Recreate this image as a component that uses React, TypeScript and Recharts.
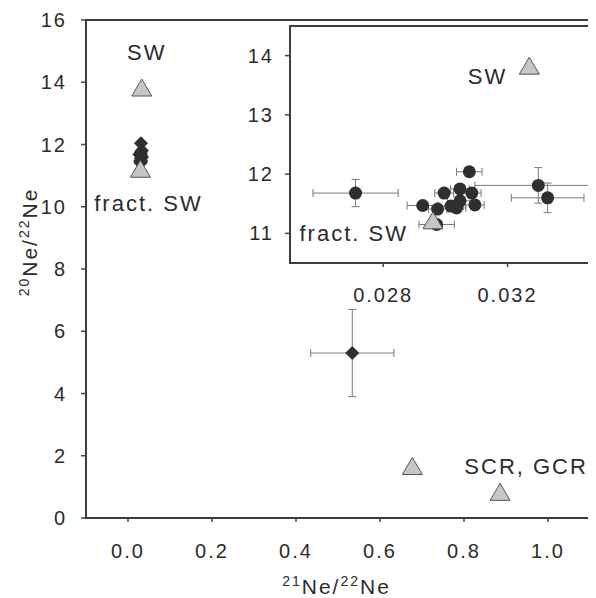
import React from "react";
import {
  ScatterChart,
  Scatter,
  XAxis,
  YAxis,
  ErrorBar,
  ReferenceArea,
  ReferenceDot,
} from "recharts";

// measured samples (circles in the inset, diamonds in the main panel)
const sampleX = [0.02711, 0.02927, 0.02975, 0.02996, 0.03047, 0.03047, 0.03018, 0.03036, 0.03077, 0.03085, 0.03095, 0.03299, 0.03329, 0.02972];
const sampleY = [11.68, 11.47, 11.41, 11.68, 11.75, 11.55, 11.46, 11.43, 12.04, 11.68, 11.48, 11.81, 11.6, 11.15];
const sampleXErr = [0.00137, 0.0005, 0.0003, 0.0003, 0.0003, 0.0004, 0.0004, 0.0003, 0.00041, 0.0003, 0.0003, 0.00204, 0.00117, 0.00057];
const sampleYErr = [0.23, 0.05, 0.05, 0.05, 0.05, 0.05, 0.05, 0.05, 0.04, 0.05, 0.05, 0.3, 0.25, 0.06];

// the single spallation-rich sample
const loneX = [0.534];
const loneY = [5.3];
const loneXErr = [0.099];
const loneYErr = [1.4];

// end members (triangles)
const endX = [0.0327, 0.0296, 0.677, 0.886];
const endY = [13.83, 11.22, 1.67, 0.84];
const endLabels = ["SW", "fract. SW", "SCR, GCR"];

const mainXTicks = [0, 0.2, 0.4, 0.6, 0.8, 1.0];
const mainYTicks = [0, 2, 4, 6, 8, 10, 12, 14, 16];
const insetXTicks = [0.028, 0.032];
const insetYTicks = [11, 12, 13, 14];

const samples = sampleX.map((x, i) => ({ x, y: sampleY[i], xe: sampleXErr[i], ye: sampleYErr[i] }));
const lone = loneX.map((x, i) => ({ x, y: loneY[i], xe: loneXErr[i], ye: loneYErr[i] }));
const ends = endX.map((x, i) => ({ x, y: endY[i] }));

const INK = "#2b2b2b";
const BOX = "#3c3c3c";
const ERR = "#7a7a7a";
const tickFont = { fontSize: 20, fill: INK };

const Triangle = (p: any) => (
  <polygon
    points={`${p.cx},${p.cy - 8.5} ${p.cx + 10},${p.cy + 8.5} ${p.cx - 10},${p.cy + 8.5}`}
    fill="#c6c6c6"
    stroke="#555"
    strokeWidth={1}
  />
);

const Diamond = (p: any) => (
  <polygon
    points={`${p.cx},${p.cy - 7} ${p.cx + 7},${p.cy} ${p.cx},${p.cy + 7} ${p.cx - 7},${p.cy}`}
    fill="#2f2f2f"
  />
);

const Dot = (p: any) => <circle cx={p.cx} cy={p.cy} r={6.5} fill="#2f2f2f" />;

// annotation text placed relative to the marker it names
const note = (text: string, dx: number, dy: number, anchor: string) => (props: any) => {
  const vb = props.viewBox;
  const cx = vb.x + vb.width / 2;
  const cy = vb.y + vb.height / 2;
  return (
    <text x={cx + dx} y={cy + dy} textAnchor={anchor} fontSize={22} fill={INK}>
      {text}
    </text>
  );
};

const YTitle = (props: any) => {
  const vb = props.viewBox;
  const x = vb.x + 28.7;
  const y = vb.y + 222;
  return (
    <text x={x} y={y} transform={`rotate(-90, ${x}, ${y})`} textAnchor="middle" fill={INK} fontSize={21}>
      <tspan fontSize={14} dy={-8}>20</tspan>
      <tspan dy={8}>Ne/</tspan>
      <tspan fontSize={14} dy={-8}>22</tspan>
      <tspan dy={8}>Ne</tspan>
    </text>
  );
};

const XTitle = (props: any) => {
  const vb = props.viewBox;
  const x = vb.x + 250.5;
  const y = vb.y + 76;
  return (
    <text x={x} y={y} textAnchor="middle" fill={INK} fontSize={21}>
      <tspan fontSize={14} dy={-8}>21</tspan>
      <tspan dy={8}>Ne/</tspan>
      <tspan fontSize={14} dy={-8}>22</tspan>
      <tspan dy={8}>Ne</tspan>
    </text>
  );
};

function MainPanel() {
  return (
    <ScatterChart width={640} height={590} margin={{ top: 12, right: 16, bottom: 0, left: 0 }}>
      <ReferenceArea x1={-0.1} x2={1.2} y1={0} y2={16} fill="none" stroke={BOX} strokeWidth={2} />
      <XAxis
        type="number"
        dataKey="x"
        domain={[-0.1, 1.2]}
        allowDataOverflow
        ticks={mainXTicks}
        tickFormatter={(v) => Number(v).toFixed(1)}
        height={80}
        axisLine={false}
        tickSize={4}
        tickMargin={22}
        tickLine={{ stroke: "#444", strokeWidth: 1.5 }}
        tick={tickFont}
        label={XTitle}
      />
      <YAxis
        type="number"
        dataKey="y"
        domain={[0, 16]}
        allowDataOverflow
        ticks={mainYTicks}
        width={78}
        axisLine={false}
        tickSize={5}
        tickMargin={14}
        tickLine={{ stroke: "#444", strokeWidth: 1.5 }}
        tick={tickFont}
        label={YTitle}
      />
      <Scatter data={samples} shape={Diamond} isAnimationActive={false} />
      <Scatter data={lone} shape={Diamond} isAnimationActive={false}>
        <ErrorBar dataKey="xe" direction="x" width={4} stroke={ERR} strokeWidth={1} isAnimationActive={false} />
        <ErrorBar dataKey="ye" direction="y" width={4} stroke={ERR} strokeWidth={1} isAnimationActive={false} />
      </Scatter>
      <Scatter data={ends} shape={Triangle} isAnimationActive={false} />
      <ReferenceDot x={endX[0]} y={endY[0]} r={1} fill="none" stroke="none" label={note(endLabels[0], 5, -28, "middle")} />
      <ReferenceDot x={endX[1]} y={endY[1]} r={1} fill="none" stroke="none" label={note(endLabels[1], 8, 42, "middle")} />
      <ReferenceDot x={endX[2]} y={endY[2]} r={1} fill="none" stroke="none" label={note(endLabels[2], 52, 8, "start")} />
    </ScatterChart>
  );
}

function InsetPanel() {
  return (
    <ScatterChart width={380} height={291} margin={{ top: 4, right: 7.25, bottom: 0, left: 0 }}>
      <ReferenceArea x1={0.025} x2={0.035} y1={10.5} y2={14.5} fill="#fff" fillOpacity={1} stroke={BOX} strokeWidth={2} />
      <XAxis
        type="number"
        dataKey="x"
        domain={[0.025, 0.035]}
        allowDataOverflow
        ticks={insetXTicks}
        tickFormatter={(v) => Number(v).toFixed(3)}
        height={50}
        axisLine={false}
        tickSize={4}
        tickMargin={21}
        tickLine={{ stroke: "#444", strokeWidth: 1.5 }}
        tick={tickFont}
      />
      <YAxis
        type="number"
        dataKey="y"
        domain={[10.5, 14.5]}
        allowDataOverflow
        ticks={insetYTicks}
        width={62}
        axisLine={false}
        tickSize={5}
        tickMargin={11}
        tickLine={{ stroke: "#444", strokeWidth: 1.5 }}
        tick={tickFont}
      />
      <Scatter data={samples} shape={Dot} isAnimationActive={false}>
        <ErrorBar dataKey="xe" direction="x" width={4} stroke={ERR} strokeWidth={1} isAnimationActive={false} />
        <ErrorBar dataKey="ye" direction="y" width={4} stroke={ERR} strokeWidth={1} isAnimationActive={false} />
      </Scatter>
      <Scatter data={ends.slice(0, 2)} shape={Triangle} isAnimationActive={false} />
      <ReferenceDot x={endX[0]} y={endY[0]} r={1} fill="none" stroke="none" label={note(endLabels[0], -22, 18, "end")} />
      <ReferenceDot x={endX[1]} y={endY[1]} r={1} fill="none" stroke="none" label={note(endLabels[1], -25, 21, "end")} />
    </ScatterChart>
  );
}

export default function App() {
  return (
    <div
      style={{
        position: "relative",
        width: 588,
        height: 590,
        overflow: "hidden",
        fontFamily: '"Liberation Sans", Arial, sans-serif',
      }}
    >
      <style>{`svg text { letter-spacing: 2px; }`}</style>
      <MainPanel />
      <div style={{ position: "absolute", left: 220, top: 14 }}>
        <InsetPanel />
      </div>
    </div>
  );
}
